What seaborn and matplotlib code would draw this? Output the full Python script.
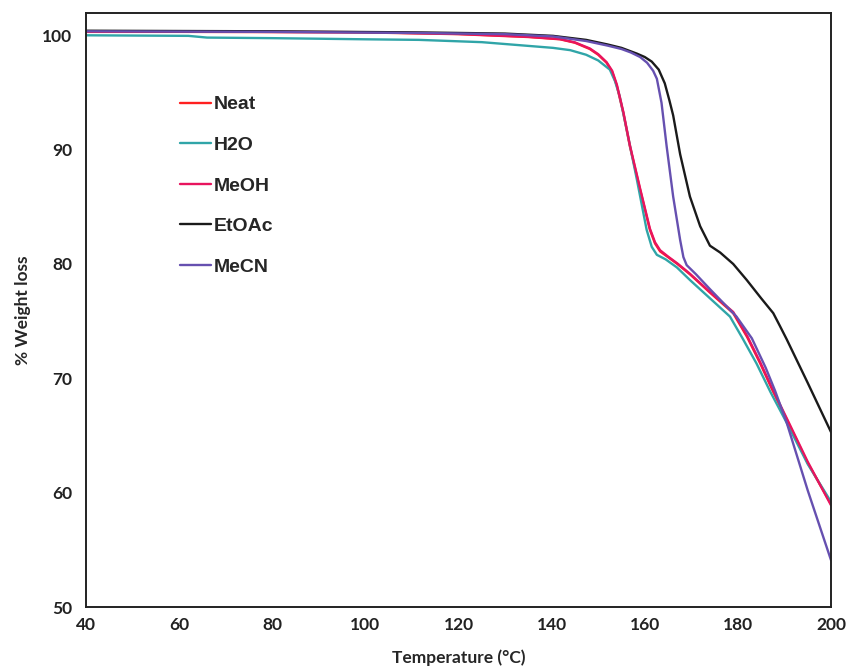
import numpy as np
import pandas as pd
import matplotlib
matplotlib.use("Agg")
import matplotlib.pyplot as plt
import seaborn as sns

# ---- data ----
series_names = ["Neat", "H2O", "MeOH", "EtOAc", "MeCN"]

neat_t = [40, 60, 80, 100, 120, 135, 141.8, 145, 148.2, 150, 151.8, 153, 154.0, 155.4, 156.8, 159.0, 161.1, 162.2, 163.3, 165, 167, 169.7, 174.0, 179.0, 182, 184.8, 187.5, 190.5, 195.0, 200.0]
neat_v = [100.3, 100.3, 100.28, 100.25, 100.1, 99.85, 99.65, 99.35, 98.8, 98.3, 97.6, 96.8, 95.6, 93.2, 90.3, 86.5, 83.0, 81.8, 81.1, 80.6, 80.0, 79.1, 77.5, 75.7, 73.6, 71.3, 68.9, 66.4, 62.6, 59.0]

h2o_t = [40, 62, 66, 80, 100, 111.5, 125, 140.3, 144, 147.4, 150, 152.5, 153.6, 154.6, 156.1, 158.3, 160.4, 161.5, 162.6, 164.5, 166.9, 169.7, 174.0, 178.3, 181, 184.0, 187, 190.5, 195.0, 200.0]
h2o_v = [100.0, 99.95, 99.8, 99.75, 99.65, 99.6, 99.4, 98.9, 98.7, 98.3, 97.8, 97.0, 96.0, 94.7, 91.8, 87.4, 83.0, 81.5, 80.8, 80.4, 79.7, 78.6, 77.0, 75.4, 73.5, 71.3, 68.8, 66.1, 62.5, 59.2]

meoh_t = [40, 60, 80, 100, 120, 135, 141.8, 145, 148.2, 150, 151.8, 153, 154.0, 155.4, 156.8, 159.0, 161.1, 162.2, 163.3, 165, 167, 169.7, 174.0, 179.0, 182, 184.8, 187.5, 190.5, 195.0, 200.0]
meoh_v = [100.32, 100.32, 100.3, 100.27, 100.12, 99.87, 99.67, 99.38, 98.85, 98.35, 97.65, 96.9, 95.7, 93.3, 90.4, 86.6, 83.1, 81.9, 81.2, 80.65, 80.05, 79.15, 77.55, 75.8, 73.7, 71.4, 69.0, 66.5, 62.7, 58.9]

etoac_t = [40, 80, 112, 130, 140.3, 147.4, 152, 155, 158.3, 160, 161.5, 163, 164.3, 165.3, 166.1, 167.6, 169.7, 171.9, 174.0, 176.2, 179, 181.9, 185, 187.6, 189, 190.5, 195.0, 200.0]
etoac_v = [100.4, 100.35, 100.25, 100.15, 99.95, 99.6, 99.2, 98.9, 98.4, 98.1, 97.7, 97.0, 95.8, 94.3, 93.0, 89.6, 85.9, 83.3, 81.6, 81.0, 80.0, 78.6, 77.0, 75.7, 74.6, 73.4, 69.6, 65.3]

mecn_t = [40, 80, 112, 130, 140.3, 147.4, 152, 155, 157, 159.0, 160.5, 161.8, 162.6, 163.6, 164.7, 166.1, 167.6, 168.3, 169.0, 171, 174.0, 179.7, 183, 186, 188, 190.5, 195.0, 200.0]
mecn_v = [100.35, 100.3, 100.2, 100.1, 99.9, 99.5, 99.1, 98.8, 98.5, 98.1, 97.6, 96.9, 96.2, 94.1, 90.3, 85.9, 82.1, 80.6, 79.9, 79.1, 77.8, 75.4, 73.5, 70.9, 68.9, 66.1, 60.2, 54.1]

x_ticks = [40, 60, 80, 100, 120, 140, 160, 180, 200]
y_ticks = [50, 60, 70, 80, 90, 100]

colors = {"Neat": "#FF2020", "H2O": "#30A5A8", "MeOH": "#E8145E",
          "EtOAc": "#1A1A1A", "MeCN": "#6650B0"}

frames = []
for name, t, v in [("Neat", neat_t, neat_v), ("H2O", h2o_t, h2o_v),
                   ("MeOH", meoh_t, meoh_v), ("EtOAc", etoac_t, etoac_v),
                   ("MeCN", mecn_t, mecn_v)]:
    frames.append(pd.DataFrame({"Temperature": t, "Weight": v, "Sample": name}))
df = pd.concat(frames, ignore_index=True)

sns.set_style("white")
plt.rcParams["font.family"] = ["Lato", "DejaVu Sans"]

fig = plt.figure(figsize=(8.5, 6.66), dpi=100)
ax = fig.add_axes([86/850, 1-607/666, (831-86)/850, (607-13)/666])

sns.lineplot(data=df, x="Temperature", y="Weight", hue="Sample",
             hue_order=series_names, palette=colors, estimator=None,
             sort=True, linewidth=1.7, ax=ax)
for line in ax.get_lines():
    line.set_solid_joinstyle("round")

ax.set_xlim(40, 200)
ax.set_ylim(50, 101.95)
ax.set_xticks(x_ticks)
ax.set_yticks(y_ticks)
ax.set_xticklabels([str(v) for v in x_ticks], fontsize=12.5, fontweight="bold")
ax.set_yticklabels([str(v) for v in y_ticks], fontsize=12.5, fontweight="bold")
ax.set_xlabel("Temperature (°C)", fontsize=12.5, fontweight="bold", labelpad=12)
ax.set_ylabel("% Weight loss", fontsize=12.5, fontweight="bold", labelpad=8)

for s in ax.spines.values():
    s.set_visible(True)
    s.set_color("#222222")
    s.set_linewidth(1.4)
ax.tick_params(axis="x", direction="inout", length=6, width=1.2, pad=4, colors="#222222")
ax.tick_params(axis="y", direction="out", length=4, width=1.2, pad=6, colors="#222222")

handles, labels = ax.get_legend_handles_labels()
leg = ax.legend(handles, labels, loc="upper left", bbox_to_anchor=(0.113, 0.877),
                frameon=False, handlelength=1.6, handletextpad=0.15,
                labelspacing=1.18, borderpad=0,
                prop={"family": "Liberation Sans", "weight": "bold", "size": 14})
for line in leg.get_lines():
    line.set_linewidth(1.7)

fig.savefig("out.png", dpi=100)
